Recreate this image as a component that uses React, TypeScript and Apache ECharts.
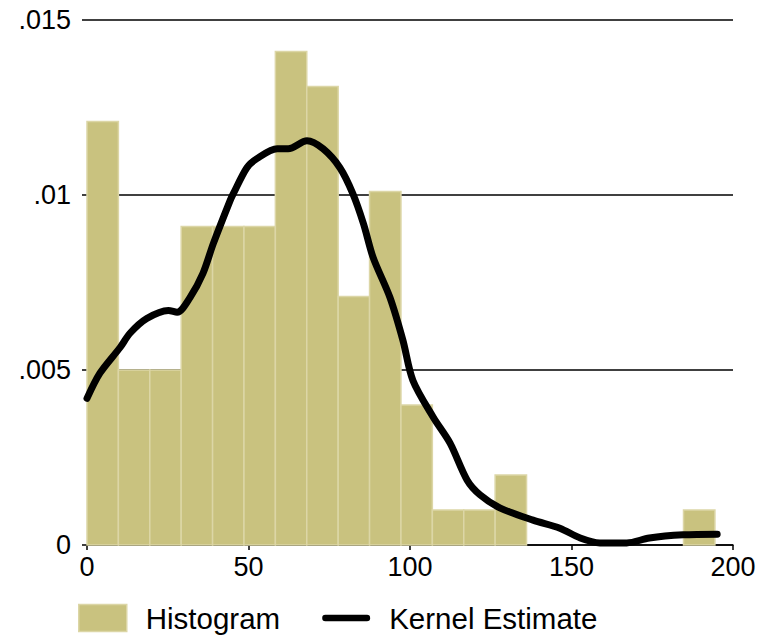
import React, { useEffect, useRef } from "react";
import * as echarts from "echarts";

const binWidth = 9.72;
const histDensity = [
  0.0121, 0.005, 0.005, 0.0091, 0.0091, 0.0091, 0.0141, 0.0131, 0.0071, 0.0101,
  0.004, 0.001, 0.001, 0.002, 0, 0, 0, 0, 0, 0.001,
];
const kernelX = [
  0, 4, 10.3, 13.3, 18.5, 25.2, 27.9, 31.9, 35.9, 39.1, 44.3, 45.3, 49.5, 52.6,
  58.9, 62.3, 68.1, 73.1, 78.3, 82.3, 85.6, 88.6, 93.8, 97.8, 100.9, 107.2,
  112.4, 117.7, 121.7, 127.8, 138.1, 146.4, 152.7, 158.8, 167.1, 174.1, 184.6,
  195.1,
];
const kernelY = [
  0.00419, 0.00491, 0.00565, 0.00605, 0.00647, 0.0067, 0.00665, 0.00707,
  0.00776, 0.00861, 0.00984, 0.01004, 0.01078, 0.01104, 0.01132, 0.01132,
  0.01155, 0.01132, 0.01078, 0.01004, 0.00918, 0.00821, 0.00707, 0.00585,
  0.0047, 0.00365, 0.00291, 0.00185, 0.00143, 0.00106, 0.00071, 0.00048,
  0.0002, 0.00006, 0.00006, 0.0002, 0.00029, 0.00031,
];
const xTicks = [0, 50, 100, 150, 200];
const yTicks = [0, 0.005, 0.01, 0.015];
const legendNames = ["Histogram", "Kernel Estimate"];

export default function App() {
  const ref = useRef<HTMLDivElement>(null);
  useEffect(() => {
    if (!ref.current) return;
    const chart = echarts.init(ref.current, undefined, { renderer: "svg" });
    const histData = histDensity.map((d, i) => [i * binWidth, (i + 1) * binWidth, d]);
    const font = "Liberation Sans, Arial, sans-serif";
    chart.setOption({
      animation: false,
      backgroundColor: "#ffffff",
      textStyle: { fontFamily: font },
      grid: { left: 87, right: 29, top: 20, bottom: 93, containLabel: false },
      xAxis: {
        type: "value",
        min: xTicks[0],
        max: xTicks[xTicks.length - 1],
        interval: 50,
        axisLine: { show: true, lineStyle: { color: "#000", width: 1.5 } },
        axisTick: { show: true, length: 5, lineStyle: { color: "#000", width: 1.5 } },
        axisLabel: { color: "#000", fontSize: 27, fontFamily: font, margin: 8 },
        splitLine: { show: false },
      },
      yAxis: {
        type: "value",
        min: yTicks[0],
        max: yTicks[yTicks.length - 1],
        interval: 0.005,
        axisLine: { show: false },
        axisTick: { show: true, length: 5, lineStyle: { color: "#000", width: 1.5 } },
        axisLabel: {
          color: "#000",
          fontSize: 27,
          fontFamily: font,
          margin: 16,
          formatter: (v: number) => (v === 0 ? "0" : String(+v.toFixed(4)).replace(/^0/, "")),
        },
        splitLine: { show: true, lineStyle: { color: "#000", width: 1.5 } },
      },
      legend: {
        top: 603,
        left: 78,
        padding: 0,
        itemWidth: 48,
        itemHeight: 27,
        itemGap: 42,
        textStyle: { color: "#000", fontSize: 29.5, fontFamily: font, padding: [0, 0, 0, 14] },
        data: [
          { name: legendNames[0], icon: "rect", itemStyle: { color: "#c9c27f", borderColor: "#dcd6a6", borderWidth: 1.5 } },
          {
            name: legendNames[1],
            icon: "path://M4,0H56A4,4,0,0,1,56,8H4A4,4,0,0,1,4,0Z",
            itemStyle: { color: "#000", borderWidth: 0 },
            lineStyle: { width: 0 },
          },
        ],
      },
      series: [
        {
          name: legendNames[0],
          type: "custom",
          data: histData,
          encode: { x: [0, 1], y: 2 },
          itemStyle: { color: "#c9c27f" },
          renderItem: (params: any, api: any) => {
            const x0 = api.value(0);
            const x1 = api.value(1);
            const h = api.value(2);
            if (!h) return null;
            const p0 = api.coord([x0, h]);
            const p1 = api.coord([x1, 0]);
            return {
              type: "rect",
              shape: { x: p0[0], y: p0[1], width: p1[0] - p0[0], height: p1[1] - p0[1] },
              style: { fill: "#c9c27f", stroke: "#dcd6a6", lineWidth: 1.5 },
            };
          },
          z: 2,
        },
        {
          name: legendNames[1],
          type: "line",
          data: kernelX.map((x, i) => [x, kernelY[i]]),
          smooth: 0.3,
          showSymbol: false,
          symbol: "none",
          lineStyle: { color: "#000", width: 7, cap: "round", join: "round" },
          itemStyle: { color: "#000" },
          z: 3,
        },
      ],
    });
    return () => chart.dispose();
  }, []);
  return (
    <div
      ref={ref}
      style={{ position: "fixed", left: 0, top: 0, width: 762, height: 638, background: "#fff" }}
    />
  );
}
